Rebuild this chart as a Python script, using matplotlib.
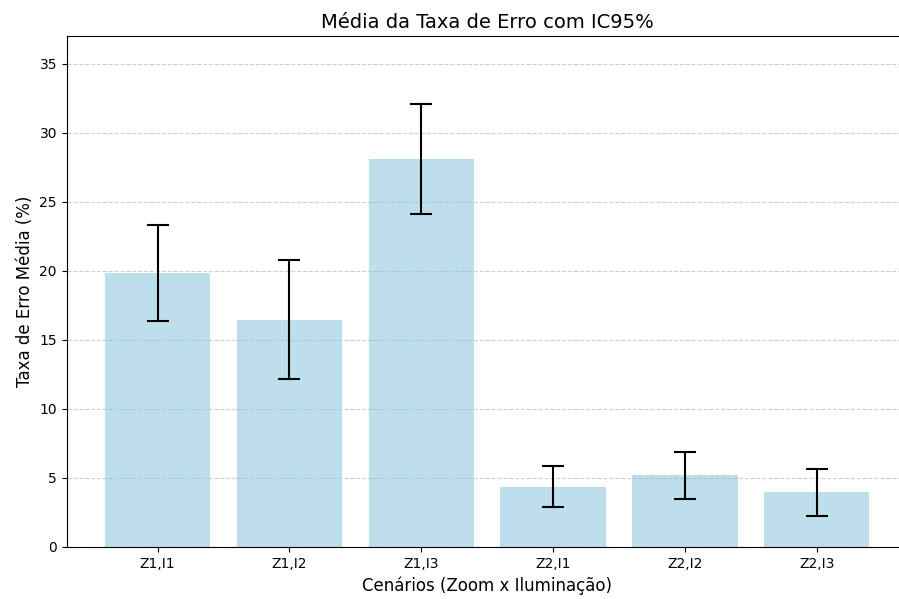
import matplotlib
matplotlib.use("Agg")
import matplotlib.pyplot as plt
import numpy as np

cenarios = ["Z1,I1", "Z1,I2", "Z1,I3", "Z2,I1", "Z2,I2", "Z2,I3"]
media_erro = [19.85, 16.47, 28.1, 4.38, 5.2, 3.95]
ic95 = [3.5, 4.28, 4.0, 1.5, 1.7, 1.68]

fig = plt.figure(figsize=(8.99, 5.99), dpi=100)
ax = fig.add_axes([66.7 / 899, 52 / 599, 841 / 899, 511 / 599])

x = np.arange(len(cenarios))
ax.bar(x, media_erro, yerr=ic95, color="lightblue", alpha=0.8, width=0.8,
       capsize=8, error_kw=dict(elinewidth=1.5, capthick=1.5, ecolor="black"))

ax.set_xticks(x)
ax.set_xticklabels(cenarios)
ax.set_xlim(-0.69, 5.69)
ax.set_ylim(0, 37)
ax.set_yticks(np.arange(0, 36, 5))

ax.set_title("Média da Taxa de Erro com IC95%", fontsize=14)
ax.set_xlabel("Cenários (Zoom x Iluminação)", fontsize=12)
ax.set_ylabel("Taxa de Erro Média (%)", fontsize=12)
ax.grid(axis="y", linestyle="--", alpha=0.6)

fig.savefig("out.png", dpi=100)
